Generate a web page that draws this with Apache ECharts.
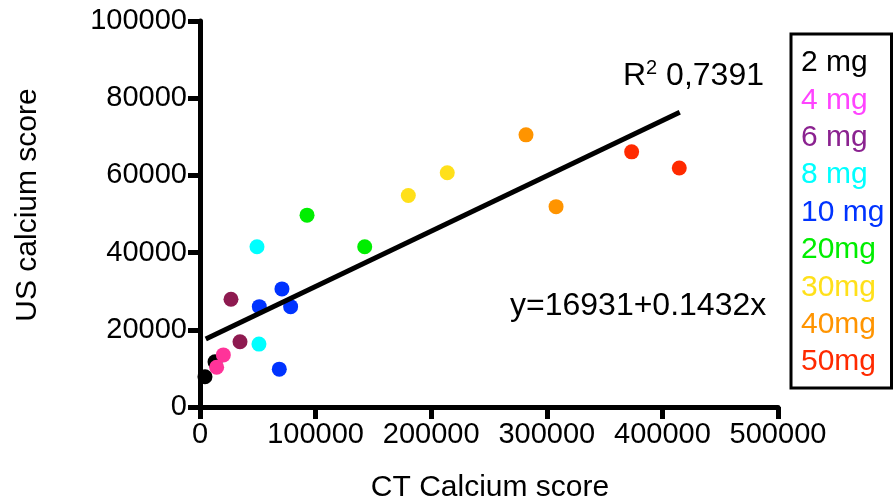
<!DOCTYPE html>
<html lang="en">
<head>
  <meta charset="UTF-8">
  <script src="https://cdn.jsdelivr.net/npm/echarts@6/dist/echarts.min.js"></script>
  <title>US vs CT calcium score</title>
</head>
<body style="margin:0">
<div id="main" style="width: 893px; height: 504px;"></div>
<script type="text/javascript">
  // doses (legend entries) and the measured points of each dose
  let doses       = ['2 mg', '4 mg', '6 mg', '8 mg', '10 mg', '20mg', '30mg', '40mg', '50mg'];
  let ctScore     = [[4300, 13000], [14400, 20200], [26800, 34600], [49300, 51000],
                     [51300, 70900, 78400, 68600], [92600, 142500], [180200, 213900],
                     [282000, 308000], [373400, 414600]];
  let usScore     = [[7850, 11700], [10300, 13500], [27900, 16900], [41500, 16300],
                     [26000, 30600, 26000, 9800], [49700, 41500], [54800, 60700],
                     [70500, 51900], [66100, 61900]];
  let pointColors  = ['#000000', '#ff3399', '#8e1a50', '#00ffff', '#0033ff', '#00ee00', '#ffe01a', '#ff9400', '#ff2a00'];
  let legendColors = ['#000000', '#ff44ff', '#8b2290', '#00ffff', '#0033ff', '#00ee00', '#ffe01a', '#ff9400', '#ff2a00'];

  // linear fit shown on the chart
  let fitIntercept = 16931;
  let fitSlope     = 0.1432;
  let fitRange     = [5000, 415000];
  let rSquared     = '0,7391';

  let xTicks = {min: 0, max: 500000, interval: 100000};
  let yTicks = {min: 0, max: 100000, interval: 20000};

  let font = 'Liberation Sans, Arial, sans-serif';

  let series = doses.map(function (name, i) {
    return {
      name: name,
      type: 'scatter',
      symbolSize: 15,
      itemStyle: {color: pointColors[i], opacity: 1},
      data: ctScore[i].map(function (x, j) { return [x, usScore[i][j]]; })
    };
  });
  series.push({
    type: 'line',
    symbol: 'none',
    silent: true,
    lineStyle: {color: '#000', width: 5},
    data: fitRange.map(function (x) { return [x, fitIntercept + fitSlope * x]; })
  });

  let axisCommon = {
    type: 'value',
    splitLine: {show: false},
    axisLine: {lineStyle: {color: '#000', width: 5}},
    axisTick: {length: 12, lineStyle: {color: '#000', width: 5}},
    axisLabel: {
      color: '#000', fontSize: 29, fontFamily: font, margin: 13,
      formatter: function (v) { return String(v); }
    }
  };

  let chart = echarts.init(document.getElementById('main'));
  chart.setOption({
    animation: false,
    grid: {left: 200, right: 115, top: 21, bottom: 97},
    xAxis: Object.assign({}, axisCommon, xTicks),
    yAxis: Object.assign({}, axisCommon, yTicks),
    legend: {
      orient: 'vertical',
      left: 796,
      top: 48,
      icon: 'none',
      itemWidth: 0,
      itemHeight: 30,
      itemGap: 7.4,
      padding: 0,
      selectedMode: false,
      textStyle: {fontSize: 30, fontFamily: font, lineHeight: 30},
      data: doses.map(function (name, i) {
        return {name: name, textStyle: {color: legendColors[i]}};
      })
    },
    graphic: [
      {
        // legend frame, right side sits on the page edge
        type: 'rect', z: 10,
        shape: {x: 791, y: 34, width: 100.5, height: 354},
        style: {fill: 'none', stroke: '#000', lineWidth: 3}
      },
      {
        type: 'text', left: 510, top: 290,
        style: {text: 'y=' + fitIntercept + '+' + fitSlope + 'x', fontSize: 32, fontFamily: font, fill: '#000'}
      },
      {
        type: 'text', left: 623, top: 58,
        style: {
          text: '{r|R}{s|2}{r| ' + rSquared + '}',
          fill: '#000',
          rich: {
            r: {fontSize: 32, fontFamily: font, lineHeight: 36},
            s: {fontSize: 20, fontFamily: font, lineHeight: 36, verticalAlign: 'top'}
          }
        }
      },
      {
        type: 'text', x: 490, y: 488,
        style: {text: 'CT Calcium score', fontSize: 30, fontFamily: font, fill: '#000', align: 'center', verticalAlign: 'middle'}
      },
      {
        type: 'text', x: 28, y: 205, rotation: Math.PI / 2,
        style: {text: 'US calcium score', fontSize: 30, fontFamily: font, fill: '#000', align: 'center', verticalAlign: 'middle'}
      }
    ],
    series: series
  });
</script>
</body>
</html>
